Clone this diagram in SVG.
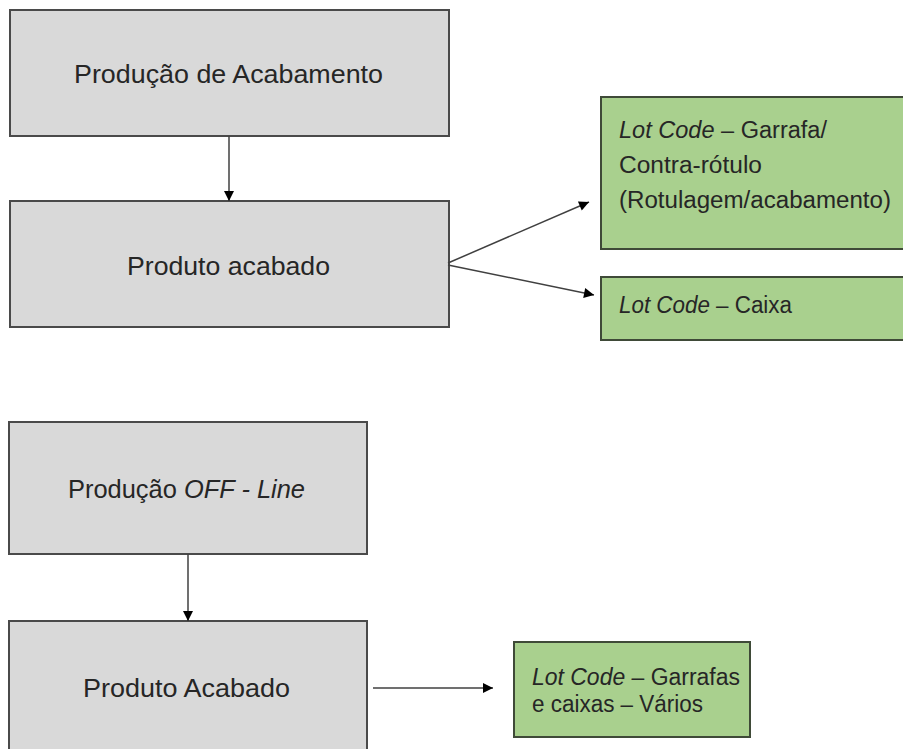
<svg xmlns="http://www.w3.org/2000/svg" width="903" height="749" viewBox="0 0 903 749">
<style>
.gray{fill:#d9d9d9;stroke:#4a4a4a;stroke-width:2}
.green{fill:#a9d08e;stroke:#3f4a38;stroke-width:2}
.t{font-family:"Liberation Sans",Arial,sans-serif;fill:#262626}
.big{font-size:26px}
.sm{font-size:23px}
.conn line{stroke:#404040;stroke-width:1.5;marker-end:url(#ah)}
</style>
<defs>
<marker id="ah" viewBox="0 0 10 10" refX="10" refY="5" markerWidth="11" markerHeight="10" markerUnits="userSpaceOnUse" orient="auto">
<path d="M0,0 L10,5 L0,10 z" fill="#000"/>
</marker>
</defs>
<rect width="903" height="749" fill="#fff"/>
<g id="n1"><rect class="gray" x="10" y="10" width="439" height="126"/>
<text class="t big" x="74" y="83" textLength="309" lengthAdjust="spacingAndGlyphs">Produção de Acabamento</text></g>
<g id="n2"><rect class="gray" x="10" y="201" width="439" height="126"/>
<text class="t big" x="127" y="275" textLength="203" lengthAdjust="spacingAndGlyphs">Produto acabado</text></g>
<g id="n3"><rect class="green" x="601" y="97" width="320" height="152"/>
<text class="t sm" x="619" y="138" textLength="208" lengthAdjust="spacingAndGlyphs"><tspan font-style="italic">Lot Code</tspan> – Garrafa/</text>
<text class="t sm" x="619" y="173" textLength="143" lengthAdjust="spacingAndGlyphs">Contra-rótulo</text>
<text class="t sm" x="619" y="208" textLength="272" lengthAdjust="spacingAndGlyphs">(Rotulagem/acabamento)</text></g>
<g id="n4"><rect class="green" x="601" y="277" width="320" height="63"/>
<text class="t sm" x="619" y="313" textLength="173" lengthAdjust="spacingAndGlyphs"><tspan font-style="italic">Lot Code</tspan> – Caixa</text></g>
<g id="n5"><rect class="gray" x="9" y="422" width="358" height="132"/>
<text class="t big" x="68" y="498" textLength="237" lengthAdjust="spacingAndGlyphs">Produção <tspan font-style="italic">OFF - Line</tspan></text></g>
<g id="n6"><rect class="gray" x="9" y="621" width="358" height="140"/>
<text class="t big" x="83" y="697" textLength="207" lengthAdjust="spacingAndGlyphs">Produto Acabado</text></g>
<g id="n7"><rect class="green" x="514" y="642" width="236" height="95"/>
<text class="t sm" x="532" y="685" textLength="208" lengthAdjust="spacingAndGlyphs"><tspan font-style="italic">Lot Code</tspan> – Garrafas</text>
<text class="t sm" x="532" y="712" textLength="171" lengthAdjust="spacingAndGlyphs">e caixas – Vários</text></g>
<g id="connectors" class="conn">
<line x1="229" y1="136" x2="229" y2="201"/>
<line x1="448" y1="263" x2="589" y2="202"/>
<line x1="448" y1="265" x2="594" y2="295"/>
<line x1="188" y1="554" x2="188" y2="621"/>
<line x1="373" y1="688" x2="493" y2="688"/>
</g>
</svg>
